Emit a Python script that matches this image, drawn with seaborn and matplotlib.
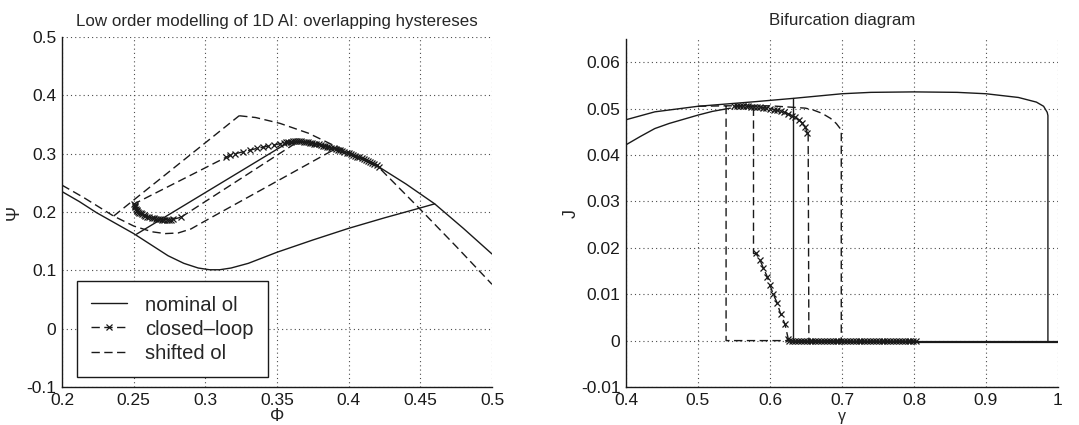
import numpy as np
import pandas as pd
import matplotlib
matplotlib.use("Agg")
import matplotlib.pyplot as plt
from matplotlib.lines import Line2D
import seaborn as sns

# ---------------- left panel: compressor characteristics (Phi, Psi) ----------------
# nominal open loop
nom_stall_phi = [0.200, 0.212, 0.224, 0.237, 0.250, 0.262, 0.274, 0.285, 0.295, 0.303,
                 0.310, 0.318, 0.330, 0.350, 0.375, 0.400, 0.425, 0.450, 0.460]
nom_stall_psi = [0.235, 0.218, 0.199, 0.181, 0.163, 0.144, 0.125, 0.112, 0.104, 0.101,
                 0.101, 0.104, 0.112, 0.131, 0.152, 0.172, 0.190, 0.207, 0.214]
nom_jump_phi = [0.252, 0.357]
nom_jump_psi = [0.162, 0.318]
nom_right_phi = [0.357, 0.363, 0.372, 0.385, 0.400, 0.420, 0.440, 0.460, 0.480, 0.500]
nom_right_psi = [0.318, 0.320, 0.319, 0.312, 0.301, 0.279, 0.248, 0.214, 0.172, 0.128]

# shifted open loop
sh_low_phi = [0.200, 0.215, 0.236, 0.250, 0.263, 0.272, 0.281, 0.290, 0.303, 0.345, 0.392]
sh_low_psi = [0.246, 0.225, 0.193, 0.176, 0.166, 0.163, 0.164, 0.171, 0.189, 0.246, 0.310]
sh_jump_phi = [0.236, 0.3236]
sh_jump_psi = [0.193, 0.365]
sh_right_phi = [0.3236, 0.335, 0.352, 0.372, 0.388, 0.400, 0.420, 0.449, 0.475, 0.500]
sh_right_psi = [0.365, 0.362, 0.352, 0.335, 0.316, 0.303, 0.279, 0.207, 0.141, 0.076]

# closed loop
cl_phi = [0.421, 0.4195, 0.418, 0.4165, 0.415, 0.4135, 0.412, 0.4105, 0.409, 0.4075,
          0.406, 0.4045, 0.403, 0.4015, 0.400, 0.3985, 0.397, 0.3955, 0.394, 0.3925,
          0.391, 0.3895, 0.388, 0.3865, 0.385, 0.3835, 0.382, 0.3805, 0.379, 0.3775,
          0.376, 0.3745, 0.373, 0.3715, 0.370, 0.3685, 0.367, 0.3655, 0.364, 0.3625,
          0.361, 0.3595, 0.358, 0.3565, 0.355, 0.352, 0.348, 0.344, 0.340, 0.336, 0.331,
          0.326, 0.321, 0.317, 0.3146,
          0.2504, 0.2506, 0.2508, 0.2512, 0.2515, 0.2520, 0.2525, 0.2532, 0.254, 0.255,
          0.256, 0.257, 0.258, 0.2595, 0.261, 0.2625, 0.264, 0.2655, 0.267, 0.2685,
          0.270, 0.2715, 0.273, 0.2745, 0.276, 0.2775, 0.283]
cl_psi = [0.278, 0.280, 0.282, 0.284, 0.286, 0.2875, 0.289, 0.2905, 0.292, 0.2935,
          0.295, 0.2965, 0.298, 0.2995, 0.301, 0.302, 0.303, 0.3045, 0.306, 0.307,
          0.308, 0.309, 0.310, 0.311, 0.312, 0.313, 0.314, 0.315, 0.316, 0.3165,
          0.317, 0.318, 0.319, 0.3195, 0.320, 0.3205, 0.321, 0.321, 0.321, 0.321,
          0.321, 0.3205, 0.320, 0.3195, 0.319, 0.317, 0.315, 0.313, 0.311, 0.309, 0.306,
          0.303, 0.300, 0.297, 0.294,
          0.214, 0.212, 0.210, 0.208, 0.206, 0.204, 0.202, 0.2005, 0.199, 0.1975,
          0.196, 0.1945, 0.193, 0.192, 0.191, 0.190, 0.189, 0.1885, 0.188, 0.1875,
          0.187, 0.187, 0.187, 0.187, 0.187, 0.1875, 0.191]
cl_jump_phi = [0.283, 0.363]
cl_jump_psi = [0.191, 0.318]

phi_ticks = [0.2, 0.25, 0.3, 0.35, 0.4, 0.45, 0.5]
phi_labels = ["0.2", "0.25", "0.3", "0.35", "0.4", "0.45", "0.5"]
psi_ticks = [-0.1, 0.0, 0.1, 0.2, 0.3, 0.4, 0.5]
psi_labels = ["-0.1", "0", "0.1", "0.2", "0.3", "0.4", "0.5"]
legend_labels = ["nominal ol", "closed\u2013loop", "shifted ol"]

# ---------------- right panel: bifurcation diagram (gamma, J) ----------------
nom_up_gamma = [0.400, 0.440, 0.500, 0.540, 0.580, 0.632, 0.700, 0.740, 0.800, 0.860,
                0.900, 0.945, 0.970, 0.980, 0.985, 0.986, 0.986]
nom_up_J = [0.0476, 0.0493, 0.0505, 0.0510, 0.0515, 0.0522, 0.0532, 0.0535, 0.0536, 0.0535,
            0.0532, 0.0524, 0.0514, 0.0505, 0.0492, 0.0485, -0.0003]
nom_zero_gamma = [0.632, 1.000]
nom_zero_J = [-0.0003, -0.0003]
nom_rise_gamma = [0.632, 0.632]
nom_rise_J = [-0.0003, 0.0522]
low_gamma = [0.400, 0.420, 0.440, 0.460, 0.480, 0.500, 0.520, 0.545]
low_J = [0.0422, 0.0440, 0.0457, 0.0468, 0.0477, 0.0486, 0.0494, 0.0501]

sh_top_gamma = [0.500, 0.539, 0.560, 0.600, 0.630, 0.649, 0.660, 0.672, 0.684, 0.692,
                0.697, 0.699, 0.699, 0.539, 0.539]
sh_top_J = [0.0505, 0.0506, 0.0506, 0.0506, 0.0503, 0.0501, 0.0497, 0.0490, 0.0479, 0.0468,
            0.0458, 0.0450, 0.0, 0.0, 0.0505]

cl_top_gamma = [0.550, 0.554, 0.558, 0.562, 0.566, 0.570, 0.574, 0.578, 0.582, 0.586,
                0.590, 0.595, 0.600, 0.605, 0.610, 0.615, 0.620, 0.625, 0.630, 0.635,
                0.640, 0.645, 0.649, 0.652]
cl_top_J = [0.0505, 0.0505, 0.0505, 0.0505, 0.0505, 0.0505, 0.0504, 0.0504, 0.0503, 0.0503,
            0.0502, 0.0501, 0.0500, 0.0498, 0.0496, 0.0494, 0.0492, 0.0489, 0.0485, 0.0481,
            0.0476, 0.0469, 0.0460, 0.0447]
cl_drop_gamma = [0.653, 0.654]
cl_drop_J = [0.0447, 0.0]
cl_low_gamma = [0.803, 0.799, 0.795, 0.791, 0.787, 0.783, 0.779, 0.775, 0.771, 0.767,
                0.763, 0.759, 0.755, 0.751, 0.747, 0.743, 0.739, 0.735, 0.731, 0.727,
                0.723, 0.719, 0.715, 0.711, 0.707, 0.703, 0.699, 0.695, 0.691, 0.687,
                0.683, 0.679, 0.675, 0.671, 0.667, 0.663, 0.659, 0.655, 0.651, 0.647,
                0.643, 0.639, 0.635, 0.631, 0.627, 0.6253, 0.6207, 0.6146, 0.610, 0.6045,
                0.5998, 0.5961, 0.5906, 0.586, 0.5804]
cl_low_J = [-0.0001] * 45 + [0.0004, 0.0036, 0.0058, 0.0081, 0.0100,
                             0.0120, 0.0138, 0.0157, 0.0174, 0.0188]
cl_rise_gamma = [0.5804, 0.577, 0.577]
cl_rise_J = [0.0188, 0.0188, 0.0505]

gamma_ticks = [0.4, 0.5, 0.6, 0.7, 0.8, 0.9, 1.0]
gamma_labels = ["0.4", "0.5", "0.6", "0.7", "0.8", "0.9", "1"]
J_ticks = [-0.01, 0.0, 0.01, 0.02, 0.03, 0.04, 0.05, 0.06]
J_labels = ["-0.01", "0", "0.01", "0.02", "0.03", "0.04", "0.05", "0.06"]

# ---------------- styling ----------------
sns.set_theme(style="white")
plt.rcParams["font.family"] = ["Liberation Sans", "DejaVu Sans"]

DASH = (0, (6, 3.2))
SOLID = dict(color="k", linewidth=1.0, linestyle="-")
SHIFT = dict(color="k", linewidth=1.0, linestyle=DASH)
CLMARK = dict(color="k", linewidth=1.0, linestyle=DASH, marker="x", markersize=4.2,
              markeredgewidth=0.9, markeredgecolor="k")
CLJUMP = dict(color="k", linewidth=1.0, linestyle=DASH)


def draw(ax, xs, ys, style):
    df = pd.DataFrame({"x": xs, "y": ys})
    sns.lineplot(data=df, x="x", y="y", sort=False, estimator=None, ax=ax,
                 legend=False, **style)


def style_axes(ax, xt, xl, yt, yl, xlim, ylim):
    ax.set_xlim(*xlim)
    ax.set_ylim(*ylim)
    ax.set_xticks(xt)
    ax.set_xticklabels(xl)
    ax.set_yticks(yt)
    ax.set_yticklabels(yl)
    ax.grid(True, color="0.3", linestyle=(0, (1, 2.8)), linewidth=0.8)
    ax.set_axisbelow(True)
    for s in ("top", "right"):
        ax.spines[s].set_visible(False)
    for s in ("left", "bottom"):
        ax.spines[s].set_color("k")
        ax.spines[s].set_linewidth(1.0)
    ax.tick_params(direction="in", length=4, width=0.8, colors="k",
                   labelsize=12.5, pad=4)
    ax.set_facecolor("white")


fig = plt.figure(figsize=(10.79, 4.25), dpi=100)
ax1 = fig.add_axes([62 / 1079, 38 / 425, 430 / 1079, 350 / 425])
ax2 = fig.add_axes([626 / 1079, 38 / 425, 432 / 1079, 348 / 425])

# left panel curves
draw(ax1, nom_stall_phi, nom_stall_psi, SOLID)
draw(ax1, nom_jump_phi, nom_jump_psi, SOLID)
draw(ax1, nom_right_phi, nom_right_psi, SOLID)
draw(ax1, sh_low_phi, sh_low_psi, SHIFT)
draw(ax1, sh_jump_phi, sh_jump_psi, SHIFT)
draw(ax1, sh_right_phi, sh_right_psi, SHIFT)
draw(ax1, cl_phi, cl_psi, CLMARK)
draw(ax1, cl_jump_phi, cl_jump_psi, CLJUMP)

style_axes(ax1, phi_ticks, phi_labels, psi_ticks, psi_labels, (0.2, 0.5), (-0.1, 0.5))
ax1.set_title("Low order modelling of 1D AI: overlapping hystereses", fontsize=12.2, pad=8)
ax1.set_xlabel("\u03a6", fontsize=13, labelpad=0)
ax1.set_ylabel("\u03a8", fontsize=13, labelpad=3)

handles = [Line2D([], [], **SOLID),
           Line2D([], [], **CLMARK),
           Line2D([], [], **SHIFT)]
leg = ax1.legend(handles, legend_labels, loc="lower left", bbox_to_anchor=(0.035, 0.029),
                 borderaxespad=0, fontsize=14.6, frameon=True, fancybox=False,
                 edgecolor="k", framealpha=1, handlelength=1.75, handletextpad=0.9,
                 labelspacing=0.25, borderpad=0.7, numpoints=1)
leg.get_frame().set_linewidth(1.0)

# right panel curves
draw(ax2, nom_up_gamma, nom_up_J, SOLID)
draw(ax2, nom_zero_gamma, nom_zero_J, dict(SOLID, linewidth=1.6))
draw(ax2, nom_rise_gamma, nom_rise_J, SOLID)
draw(ax2, low_gamma, low_J, SOLID)
draw(ax2, sh_top_gamma, sh_top_J, SHIFT)
draw(ax2, cl_top_gamma, cl_top_J, CLMARK)
draw(ax2, cl_drop_gamma, cl_drop_J, CLJUMP)
draw(ax2, cl_low_gamma, cl_low_J, CLMARK)
draw(ax2, cl_rise_gamma, cl_rise_J, CLJUMP)

style_axes(ax2, gamma_ticks, gamma_labels, J_ticks, J_labels, (0.4, 1.0), (-0.01, 0.065))
ax2.set_title("Bifurcation diagram", fontsize=12.2, pad=10)
ax2.set_xlabel("\u03b3", fontsize=11.5, labelpad=1)
ax2.set_ylabel("J", fontsize=13, labelpad=1)

fig.savefig("out.png", dpi=100, facecolor="white")
